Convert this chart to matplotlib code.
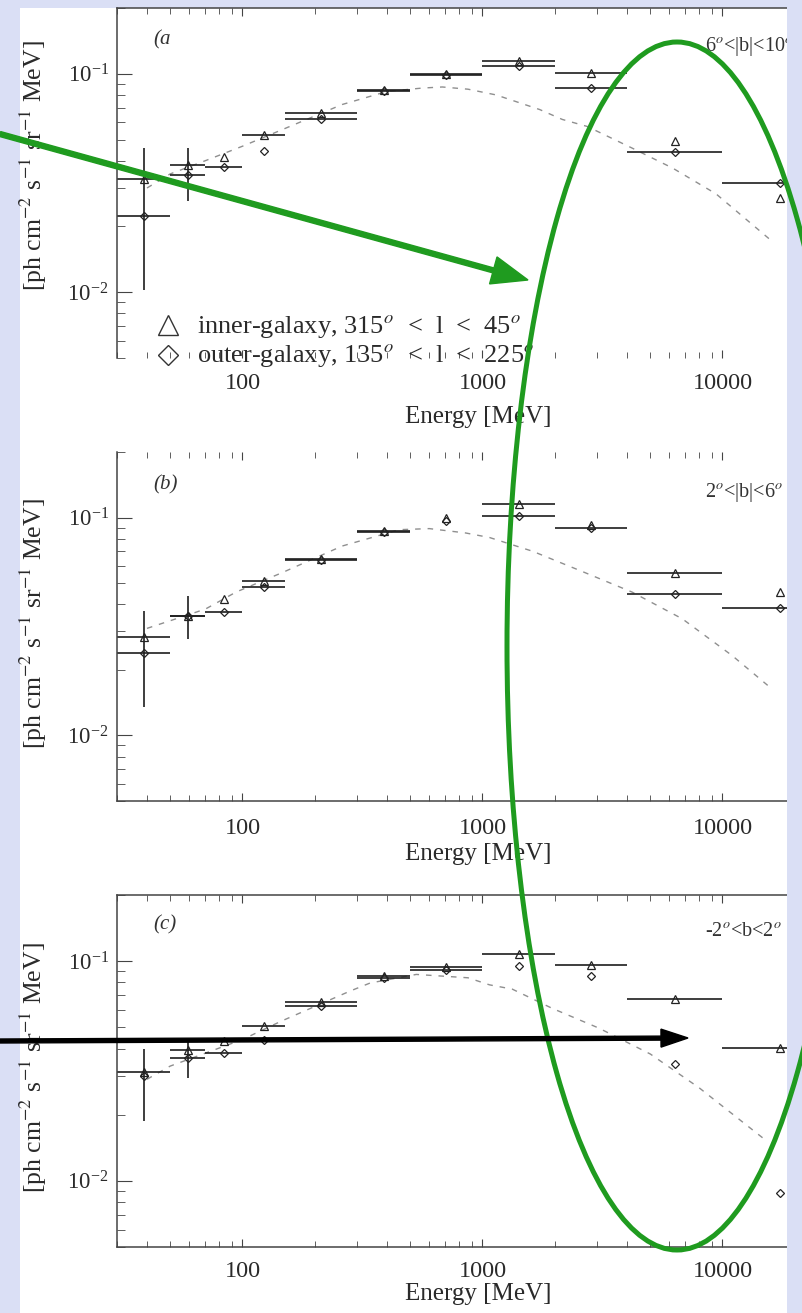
import matplotlib
matplotlib.use('Agg')
import matplotlib.pyplot as plt
from matplotlib.patches import Rectangle, Ellipse, FancyArrow
from matplotlib.ticker import FixedLocator, FixedFormatter, NullFormatter, LogLocator

plt.rcParams['font.family'] = 'serif'
plt.rcParams['font.serif'] = ['Liberation Serif', 'DejaVu Serif']
plt.rcParams['mathtext.fontset'] = 'stix'

W, H = 802, 1313
LAV = '#dadff5'
GREEN = '#1f9b1f'

# EGRET energy bins [MeV]
e_lo = [30, 50, 70, 100, 150, 300, 500, 1000, 2000, 4000, 10000]
e_hi = [50, 70, 100, 150, 300, 500, 1000, 2000, 4000, 10000, 30000]
e_mid = [38.7, 59.2, 83.7, 122.5, 212.1, 387.3, 707.1, 1414, 2828, 6325, 17320]

# (a) 6 < |b| < 10
inner_a = [0.033, 0.0382, 0.0415, 0.0523, 0.066, 0.0845, 0.100, 0.115, 0.101, 0.049, 0.027]
outer_a = [0.0224, 0.0344, 0.0374, 0.0442, 0.0624, 0.0837, 0.099, 0.108, 0.0864, 0.044, 0.0316]
inner_bar_a = [1, 1, 0, 1, 1, 1, 1, 1, 1, 0, 0]
outer_bar_a = [1, 1, 1, 0, 1, 1, 1, 1, 1, 1, 1]
vbar_a = [(0, 0.0102, 0.0456), (1, 0.0262, 0.0456)]
model_e_a = [40, 50, 70, 100, 147, 260, 400, 560, 680, 870, 1140, 1730, 2150, 2730, 4200, 6200, 9400, 16000]
model_f_a = [0.030, 0.0348, 0.040, 0.0466, 0.0556, 0.0723, 0.083, 0.086, 0.087, 0.085, 0.080, 0.0686, 0.0618, 0.0574, 0.0457, 0.037, 0.0282, 0.0172]

# (b) 2 < |b| < 6
inner_b = [0.0283, 0.0355, 0.0422, 0.051, 0.0645, 0.087, 0.100, 0.115, 0.092, 0.0555, 0.0455]
outer_b = [0.0239, 0.0352, 0.0368, 0.048, 0.0637, 0.086, 0.096, 0.102, 0.090, 0.0445, 0.0383]
inner_bar_b = [1, 1, 0, 1, 1, 1, 0, 1, 0, 1, 0]
outer_bar_b = [1, 1, 1, 1, 1, 1, 0, 1, 1, 1, 1]
vbar_b = [(0, 0.0135, 0.0372), (1, 0.0277, 0.0436)]
model_e_b = [40, 70, 94, 147, 260, 450, 600, 850, 1070, 1620, 2600, 4200, 6800, 11000, 15700]
model_f_b = [0.031, 0.038, 0.0455, 0.056, 0.074, 0.088, 0.089, 0.085, 0.081, 0.070, 0.0566, 0.0455, 0.0343, 0.0232, 0.0167]

# (c) -2 < b < 2
inner_c = [0.0313, 0.0394, 0.0433, 0.0506, 0.065, 0.086, 0.094, 0.108, 0.096, 0.067, 0.0402]
outer_c = [0.030, 0.0363, 0.0382, 0.0437, 0.0624, 0.084, 0.091, 0.095, 0.0855, 0.034, 0.0088]
inner_bar_c = [1, 1, 0, 1, 1, 1, 1, 1, 1, 1, 1]
outer_bar_c = [0, 1, 1, 0, 1, 1, 1, 0, 0, 0, 0]
vbar_c = [(0, 0.0187, 0.0398), (1, 0.0294, 0.0433)]
model_e_c = [40, 50, 100, 145, 280, 340, 530, 870, 1070, 1330, 1950, 3050, 5000, 8000, 14700]
model_f_c = [0.029, 0.0333, 0.044, 0.0533, 0.073, 0.0795, 0.087, 0.084, 0.078, 0.0746, 0.061, 0.0496, 0.0378, 0.0265, 0.0157]


def box(x0, y0, x1, y1):
    return [x0 / W, 1 - y1 / H, (x1 - x0) / W, (y1 - y0) / H]


def panel(ax, inner, outer, ibar, obar, vbars, me, mf, tag, region, reg_y, lab_y, ylab_y,
          top_spine=True, bot_spine=True, xpad=10):
    ax.set_xscale('log'); ax.set_yscale('log')
    ax.set_xlim(30, 30000); ax.set_ylim(0.005, 0.2)
    ax.patch.set_alpha(0)
    ax.plot(me, mf, ls=(0, (4, 5)), color='#8f8f8f', lw=1.0)
    for vals, bars in ((inner, ibar), (outer, obar)):
        for i, v in enumerate(vals):
            if bars[i]:
                ax.hlines(v, e_lo[i], e_hi[i], color='#1e1e1e', lw=1.2)
    for i, lo, hi in vbars:
        ax.vlines(e_mid[i], lo, hi, color='#1e1e1e', lw=1.2)
    ax.plot(e_mid, inner, ls='none', marker='^', ms=5.5, mfc='none', mec='#222222', mew=0.9)
    ax.plot(e_mid, outer, ls='none', marker='D', ms=4.5, mfc='none', mec='#222222', mew=0.9)

    for s in ('left', 'top', 'bottom', 'right'):
        ax.spines[s].set_color('#444444'); ax.spines[s].set_linewidth(1.1)
    ax.spines['right'].set_visible(False)
    ax.spines['top'].set_visible(top_spine)
    ax.spines['bottom'].set_visible(bot_spine)

    ax.xaxis.set_major_locator(FixedLocator([100, 1000, 10000]))
    ax.xaxis.set_major_formatter(FixedFormatter(['100', '1000', '10000']))
    ax.xaxis.set_minor_locator(LogLocator(base=10, subs=range(2, 10)))
    ax.xaxis.set_minor_formatter(NullFormatter())
    ax.yaxis.set_minor_formatter(NullFormatter())
    ax.tick_params(axis='x', which='both', direction='in', top=True, bottom=True, color='#444444',
                   labelsize=17.5, labelcolor='#2a2a2a', pad=xpad)
    ax.tick_params(axis='x', which='major', length=6)
    ax.tick_params(axis='x', which='minor', length=4)
    ax.tick_params(axis='y', which='both', direction='in', right=False, color='#444444',
                   labelsize=16.5, labelcolor='#2a2a2a', pad=6)
    ax.tick_params(axis='y', which='major', length=11)
    ax.tick_params(axis='y', which='minor', length=6)

    ax.set_xlabel('Energy [MeV]', fontsize=18, color='#2a2a2a')
    ax.xaxis.set_label_coords(0.502, lab_y)
    ax.set_ylabel(r'[ph cm$^{-2}$ s$^{-1}$ sr$^{-1}$ MeV]', fontsize=18.5, color='#2a2a2a')
    ax.yaxis.set_label_coords(-0.094, ylab_y)

    ax.text(0.05, reg_y + 0.02, tag, transform=ax.transAxes, fontsize=15, style='italic',
            color='#333333', va='center')
    ax.text(0.817, reg_y, region, transform=ax.transAxes, fontsize=14.5, color='#333333', va='center')


fig = plt.figure(figsize=(W / 100, H / 100), dpi=100, facecolor=LAV)
fig.add_artist(Rectangle((20 / W, 0), (787 - 20) / W, (H - 8) / H, transform=fig.transFigure,
                         facecolor='white', edgecolor='none', zorder=0))

ax_a = fig.add_axes(box(117, 8, 837, 358))
ax_b = fig.add_axes(box(117, 452, 837, 801))
ax_c = fig.add_axes(box(117, 895, 837, 1247))

panel(ax_a, inner_a, outer_a, inner_bar_a, outer_bar_a, vbar_a, model_e_a, model_f_a,
      '(a', r'6$^o$<|b|<10$^o$', 0.889, -0.137, 0.55, bot_spine=False, xpad=11)
panel(ax_b, inner_b, outer_b, inner_bar_b, outer_bar_b, vbar_b, model_e_b, model_f_b,
      '(b)', r'2$^o$<|b|<6$^o$', 0.885, -0.12, 0.507, top_spine=False, xpad=12)
panel(ax_c, inner_c, outer_c, inner_bar_c, outer_bar_c, vbar_c, model_e_c, model_f_c,
      '(c)', r'-2$^o$<b<2$^o$', 0.895, -0.102, 0.51, xpad=10)

# legend written into panel (a)
ax_a.plot([0.0715], [0.093], transform=ax_a.transAxes, marker='^', ms=14, mfc='none',
          mec='#333333', mew=1.0, clip_on=False)
ax_a.plot([0.0715], [0.010], transform=ax_a.transAxes, marker='D', ms=10.5, mfc='none',
          mec='#333333', mew=1.0, clip_on=False)
ax_a.text(0.111, 0.072, r'inner-galaxy, 315$^o$  <  l  <  45$^o$', transform=ax_a.transAxes,
          fontsize=19, color='#2a2a2a', va='baseline')
ax_a.text(0.111, -0.011, r'outer-galaxy, 135$^o$  <  l  <  225$^o$', transform=ax_a.transAxes,
          fontsize=19, color='#2a2a2a', va='baseline')

# overlay in pixel coordinates: clipped right edge, ellipse and arrows
ov = fig.add_axes([0, 0, 1, 1], zorder=10)
ov.set_xlim(0, W); ov.set_ylim(H, 0); ov.axis('off'); ov.patch.set_alpha(0)
ov.add_patch(Rectangle((787, 0), W - 787, H, facecolor=LAV, edgecolor='none', zorder=1))
ov.add_patch(Ellipse((677, 646), 340, 1208, fill=False, edgecolor=GREEN, lw=3.6, zorder=2))
ov.add_patch(FancyArrow(0, 134, 528, 146, width=5, head_width=28, head_length=36,
                        length_includes_head=True, color=GREEN, zorder=3))
ov.add_patch(FancyArrow(0, 1041, 688, -3, width=4, head_width=18, head_length=27,
                        length_includes_head=True, color='black', zorder=3))

fig.savefig('out.png', dpi=100, facecolor=LAV)
